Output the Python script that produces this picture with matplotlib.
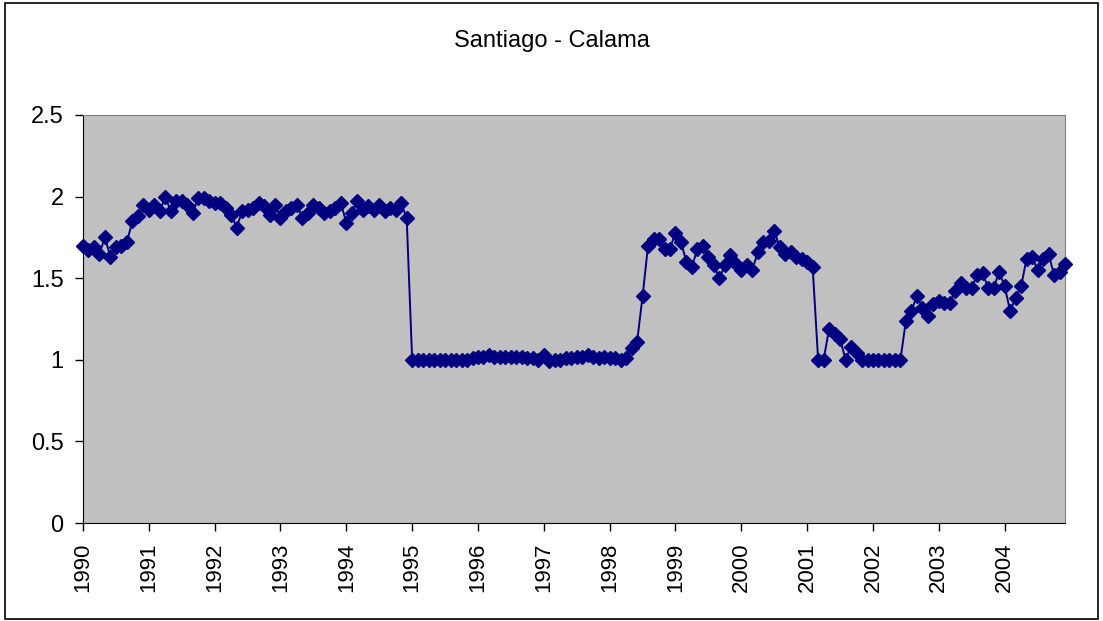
import numpy as np
import matplotlib
matplotlib.use("Agg")
import matplotlib.pyplot as plt
from matplotlib.patches import Rectangle

plt.rcParams['font.family'] = ['Liberation Sans', 'DejaVu Sans']

# monthly values, Jan..Dec of each year
v1990 = [1.70, 1.67, 1.69, 1.65, 1.75, 1.63, 1.69, 1.70, 1.72, 1.85, 1.88, 1.95]
v1991 = [1.92, 1.95, 1.91, 2.00, 1.91, 1.97, 1.97, 1.95, 1.90, 1.99, 1.99, 1.97]
v1992 = [1.96, 1.96, 1.93, 1.89, 1.81, 1.91, 1.92, 1.93, 1.96, 1.94, 1.89, 1.95]
v1993 = [1.87, 1.91, 1.93, 1.95, 1.87, 1.90, 1.95, 1.93, 1.90, 1.91, 1.93, 1.96]
v1994 = [1.84, 1.90, 1.97, 1.92, 1.94, 1.92, 1.95, 1.91, 1.93, 1.92, 1.96, 1.87]
v1995 = [1.00, 1.00, 1.00, 1.00, 1.00, 1.00, 1.00, 1.00, 1.00, 1.00, 1.00, 1.01]
v1996 = [1.02, 1.02, 1.03, 1.02, 1.02, 1.02, 1.02, 1.02, 1.02, 1.01, 1.01, 1.00]
v1997 = [1.03, 0.99, 1.00, 1.00, 1.01, 1.01, 1.02, 1.02, 1.03, 1.02, 1.01, 1.02]
v1998 = [1.01, 1.01, 1.00, 1.01, 1.07, 1.11, 1.39, 1.70, 1.74, 1.74, 1.68, 1.68]
v1999 = [1.78, 1.72, 1.60, 1.57, 1.68, 1.70, 1.63, 1.58, 1.50, 1.58, 1.64, 1.59]
v2000 = [1.55, 1.58, 1.55, 1.66, 1.72, 1.73, 1.79, 1.69, 1.65, 1.66, 1.63, 1.62]
v2001 = [1.60, 1.57, 1.00, 1.00, 1.19, 1.16, 1.13, 1.00, 1.08, 1.04, 1.00, 1.00]
v2002 = [1.00, 1.00, 1.00, 1.00, 1.00, 1.00, 1.24, 1.30, 1.39, 1.32, 1.27, 1.34]
v2003 = [1.36, 1.35, 1.35, 1.42, 1.47, 1.44, 1.44, 1.52, 1.53, 1.44, 1.44, 1.54]
v2004 = [1.45, 1.30, 1.38, 1.45, 1.62, 1.63, 1.55, 1.62, 1.65, 1.52, 1.54, 1.59]

years = list(range(1990, 2005))
y_ticks = [0, 0.5, 1, 1.5, 2, 2.5]
y_labels = ['0', '0.5', '1', '1.5', '2', '2.5']

values = np.array(v1990 + v1991 + v1992 + v1993 + v1994 + v1995 + v1996 + v1997
                  + v1998 + v1999 + v2000 + v2001 + v2002 + v2003 + v2004)
months = np.arange(len(values))

fig = plt.figure(figsize=(11.03, 6.21), dpi=100)
ax = fig.add_axes([83 / 1103, 1 - 523 / 621, (1065 - 83) / 1103, (523 - 115) / 621])
ax.set_facecolor('#C0C0C0')

ax.plot(months, values, color='#000080', linewidth=1.4, marker='D',
        markersize=7.5, markerfacecolor='#000080', markeredgecolor='#000080',
        clip_on=False, zorder=3)

ax.set_xlim(0, len(values) - 1)
ax.set_ylim(0, 2.5)
ax.set_xticks(np.arange(len(years)) * 12)
ax.set_xticklabels([str(y) for y in years], rotation=90, fontsize=16)
ax.set_yticks(y_ticks)
ax.set_yticklabels(y_labels, fontsize=17)
ax.tick_params(axis='both', direction='out', length=6, width=1, color='#000000')
ax.tick_params(axis='x', pad=8)
ax.tick_params(axis='y', pad=8)

for s in ['top', 'right']:
    ax.spines[s].set_color('#808080')
for s in ['left', 'bottom']:
    ax.spines[s].set_color('#000000')

fig.text(0.5, 1 - 41 / 621, 'Santiago - Calama', ha='center', va='center', fontsize=17)

# outer chart border
fig.patches.append(Rectangle((5 / 1103, 2 / 621), 1093 / 1103, 616 / 621,
                             transform=fig.transFigure, fill=False,
                             edgecolor='#000000', linewidth=1.2))

fig.savefig('out.png', dpi=100, facecolor='white')
